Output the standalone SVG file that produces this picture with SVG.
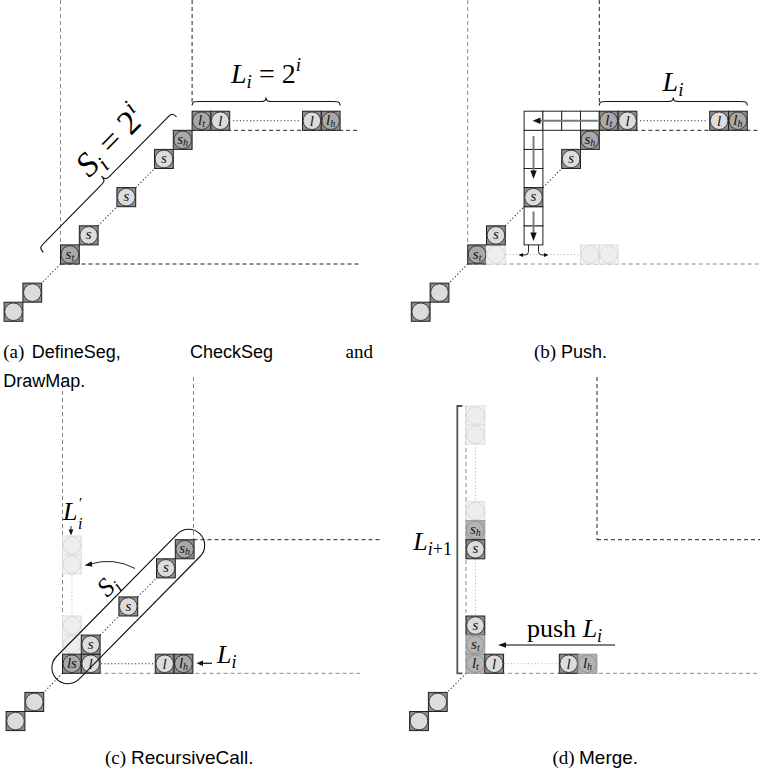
<svg xmlns="http://www.w3.org/2000/svg" xmlns:xlink="http://www.w3.org/1999/xlink" width="764" height="774" viewBox="0 0 764 774">
<style>
.dk{stroke:#222;stroke-width:1;stroke-dasharray:4,3;fill:none}
.lt{stroke:#8a8a8a;stroke-width:1;stroke-dasharray:4,3;fill:none}
.dot{stroke:#333;stroke-width:1.1;stroke-dasharray:1.2,2.2;fill:none}
.dotl{stroke:#b8b8b8;stroke-width:1;stroke-dasharray:1.2,2.2;fill:none}
.ct{font-family:"Liberation Serif",serif;font-style:italic;font-size:15px;text-anchor:middle;fill:#111}
.sb{font-size:10px}
.lab{font-family:"Liberation Serif",serif;font-style:italic;font-size:26px;fill:#000}
.up{font-style:normal}
.s2{font-size:18px}
.brace{fill:none;stroke:#111;stroke-width:1.1}
.box{fill:#fff;stroke:#222;stroke-width:1}
.garr{stroke:#7a7a7a;stroke-width:2;fill:none}
.arr{stroke:#222;stroke-width:1;fill:none}
.serif{font-family:"Liberation Serif",serif;font-size:19px;fill:#000}
.sans{font-family:"Liberation Sans",Arial,sans-serif;font-size:18px;fill:#000}
</style>
<defs>
<g id="cn"><rect width="18.8" height="19.1" fill="#8c8c8c" stroke="#222" stroke-width="1"/><circle cx="9.4" cy="9.55" r="8.8" fill="#dcdcdc" stroke="#222" stroke-width="0.8"/></g>
<g id="cd"><rect width="18.8" height="19.1" fill="#8c8c8c" stroke="#222" stroke-width="1"/><circle cx="9.4" cy="9.55" r="8.8" fill="#a9a9a9" stroke="#222" stroke-width="0.8"/></g>
<g id="cp"><rect width="18.8" height="19.1" fill="#f3f3f3" stroke="#dcdcdc" stroke-width="1"/><circle cx="9.4" cy="9.55" r="8.8" fill="#eeeeee" stroke="#d2d2d2" stroke-width="0.8"/></g>
<g id="cf"><rect width="18.8" height="19.1" fill="#b2b2b2" stroke="#9a9a9a" stroke-width="1"/><circle cx="9.4" cy="9.55" r="8.8" fill="#b4b4b4" stroke="#8c8c8c" stroke-width="0.8"/></g>
<rect id="bx" class="box" width="18.8" height="19.1"/>
</defs>

<g id="guides">
<line class="lt" x1="60.5" y1="0" x2="60.5" y2="245"/>
<line class="dk" x1="192.1" y1="0" x2="192.1" y2="103"/>
<line class="dk" x1="192.1" y1="130.3" x2="360" y2="130.3"/>
<line class="dk" x1="60.5" y1="264" x2="360" y2="264"/>
<line class="lt" x1="467.7" y1="0" x2="467.7" y2="245"/>
<line class="dk" x1="599.3" y1="0" x2="599.3" y2="103"/>
<line class="dk" x1="599.3" y1="130.3" x2="760" y2="130.3"/>
<line class="lt" x1="467.7" y1="264" x2="760" y2="264"/>
<line class="lt" x1="62.5" y1="377" x2="62.5" y2="654"/>
<line class="lt" x1="193.5" y1="377" x2="193.5" y2="539.7"/>
<line class="dk" x1="193.5" y1="539.7" x2="380" y2="539.7"/>
<line class="lt" x1="62.5" y1="673.3" x2="360" y2="673.3"/>
<line class="lt" x1="466" y1="406" x2="466" y2="673.3"/>
<line class="dk" x1="597" y1="377" x2="597" y2="539.7"/>
<line class="dk" x1="597" y1="539.7" x2="760" y2="539.7"/>
<line class="lt" x1="466" y1="673.3" x2="760" y2="673.3"/>
</g>

<g id="connectors">
<line class="dot" x1="60.5" y1="264" x2="41.7" y2="283.1"/>
<line class="dot" x1="98.1" y1="225.8" x2="116.9" y2="206.7"/>
<line class="dot" x1="135.7" y1="187.6" x2="154.5" y2="168.5"/>
<line class="dot" x1="233" y1="120.7" x2="300" y2="120.7"/>
<line class="dot" x1="467.7" y1="264" x2="448.9" y2="283.1"/>
<line class="dot" x1="505.3" y1="225.8" x2="524.1" y2="206.7"/>
<line class="dot" x1="542.9" y1="187.6" x2="561.7" y2="168.5"/>
<line class="dot" x1="640" y1="120.7" x2="707" y2="120.7"/>
<line class="dotl" x1="506" y1="254.5" x2="580" y2="254.5"/>
<line class="dot" x1="62.5" y1="673.3" x2="43.7" y2="692.4"/>
<line class="dot" x1="100.1" y1="635.1" x2="118.9" y2="616"/>
<line class="dot" x1="137.7" y1="596.9" x2="156.5" y2="577.9"/>
<line class="dot" x1="101" y1="663.7" x2="155" y2="663.7"/>
<line class="dotl" x1="71.9" y1="575" x2="71.9" y2="616"/>
<line class="dot" x1="466" y1="673.3" x2="447.2" y2="692.4"/>
<line class="dotl" x1="475.4" y1="444" x2="475.4" y2="501.5"/>
<line class="dotl" x1="475.4" y1="559" x2="475.4" y2="616"/>
<line class="dotl" x1="504" y1="663.7" x2="559" y2="663.7"/>
</g>

<g id="a-nodes">
<g id="a-c3"><use xlink:href="#cn" x="4.1" y="302.2"/></g>
<g id="a-c2"><use xlink:href="#cn" x="22.9" y="283.1"/></g>
<g id="a-st"><use xlink:href="#cd" x="60.5" y="244.9"/><text class="ct" x="69.9" y="258.5">s<tspan class="sb" dy="2">t</tspan></text></g>
<g id="a-s1"><use xlink:href="#cn" x="79.3" y="225.8"/><text class="ct" x="88.7" y="239.4">s</text></g>
<g id="a-s3"><use xlink:href="#cn" x="116.9" y="187.6"/><text class="ct" x="126.3" y="201.2">s</text></g>
<g id="a-s5"><use xlink:href="#cn" x="154.5" y="149.4"/><text class="ct" x="163.9" y="163">s</text></g>
<g id="a-sh"><use xlink:href="#cd" x="173.3" y="130.3"/><text class="ct" x="182.7" y="143.9">s<tspan class="sb" dy="2">h</tspan></text></g>
<g id="a-lt"><use xlink:href="#cd" x="192.1" y="111.2"/><text class="ct" x="201.5" y="124.8">l<tspan class="sb" dy="2">t</tspan></text></g>
<g id="a-l1"><use xlink:href="#cn" x="210.9" y="111.2"/><text class="ct" x="220.3" y="125.8">l</text></g>
<g id="a-l2"><use xlink:href="#cn" x="302.5" y="111.2"/><text class="ct" x="311.9" y="125.8">l</text></g>
<g id="a-lh"><use xlink:href="#cd" x="321.3" y="111.2"/><text class="ct" x="330.7" y="124.8">l<tspan class="sb" dy="2">h</tspan></text></g>
</g>

<g id="a-annot">
<path class="brace" d="M192.1,105.5 C192.1,101.5 194,101.5 200,101.5 L258,101.5 C264,101.5 266.1,101.5 266.1,97.5 C266.1,101.5 268,101.5 274,101.5 L332,101.5 C338,101.5 340.1,101.5 340.1,105.5"/>
<text class="lab" x="266" y="83" text-anchor="middle" style="font-size:28px">L<tspan style="font-size:19px" dy="5">i</tspan><tspan class="up" dy="-5"> = 2</tspan><tspan style="font-size:19px" dy="-12">i</tspan></text>
<g transform="translate(39.1,248.1) rotate(-45.5)">
<path class="brace" d="M0,6 C0,0 2,0 8,0 L87,0 C93,0 95,0 95,-6 C95,0 97,0 103,0 L182,0 C188,0 190,0 190,6"/>
<text class="lab" x="126" y="-13" text-anchor="middle" style="font-size:34px">S<tspan style="font-size:22px" dy="7">i</tspan><tspan class="up" dy="-7"> = 2</tspan><tspan style="font-size:22px" dy="-14">i</tspan></text>
</g>
</g>

<g id="b-nodes">
<g id="b-c3"><use xlink:href="#cn" x="411.3" y="302.2"/></g>
<g id="b-c2"><use xlink:href="#cn" x="430.1" y="283.1"/></g>
<g id="b-st"><use xlink:href="#cd" x="467.7" y="244.9"/><text class="ct" x="477.1" y="258.5">s<tspan class="sb" dy="2">t</tspan></text></g>
<g id="b-p1"><use xlink:href="#cp" x="486.5" y="244.9"/></g>
<g id="b-s1"><use xlink:href="#cn" x="486.5" y="225.8"/><text class="ct" x="495.9" y="239.4">s</text></g>
<g id="b-stack">
<use xlink:href="#bx" x="524.1" y="225.8"/>
<use xlink:href="#bx" x="524.1" y="206.7"/>
<use xlink:href="#bx" x="524.1" y="168.5"/>
<use xlink:href="#bx" x="524.1" y="149.4"/>
<use xlink:href="#bx" x="524.1" y="130.3"/>
<use xlink:href="#bx" x="524.1" y="111.2"/>
<use xlink:href="#bx" x="542.9" y="111.2"/>
<use xlink:href="#bx" x="561.7" y="111.2"/>
<use xlink:href="#bx" x="580.5" y="111.2"/>
</g>
<g id="b-s3"><use xlink:href="#cn" x="524.1" y="187.6"/><text class="ct" x="533.5" y="201.2">s</text></g>
<g id="b-s5"><use xlink:href="#cn" x="561.7" y="149.4"/><text class="ct" x="571.1" y="163">s</text></g>
<g id="b-sh"><use xlink:href="#cd" x="580.5" y="130.3"/><text class="ct" x="589.9" y="143.9">s<tspan class="sb" dy="2">h</tspan></text></g>
<g id="b-lt"><use xlink:href="#cd" x="599.3" y="111.2"/><text class="ct" x="608.7" y="124.8">l<tspan class="sb" dy="2">t</tspan></text></g>
<g id="b-l1"><use xlink:href="#cn" x="618.1" y="111.2"/><text class="ct" x="627.5" y="125.8">l</text></g>
<g id="b-l2"><use xlink:href="#cn" x="709.7" y="111.2"/><text class="ct" x="719.1" y="125.8">l</text></g>
<g id="b-lh"><use xlink:href="#cd" x="728.5" y="111.2"/><text class="ct" x="737.9" y="124.8">l<tspan class="sb" dy="2">h</tspan></text></g>
<g id="b-p6"><use xlink:href="#cp" x="580.5" y="244.9"/></g>
<g id="b-p7"><use xlink:href="#cp" x="599.3" y="244.9"/></g>
</g>

<g id="b-annot">
<line class="garr" x1="598" y1="120.7" x2="540" y2="120.7"/>
<polygon points="532.5,120.7 540.5,117.5 540.5,123.9" fill="#111"/>
<line class="garr" x1="533.5" y1="136" x2="533.5" y2="171"/>
<polygon points="533.5,179 530.3,170.5 536.7,170.5" fill="#111"/>
<line class="garr" x1="533.5" y1="211.5" x2="533.5" y2="233"/>
<polygon points="533.5,241 530.3,232.5 536.7,232.5" fill="#111"/>
<path class="arr" d="M528.5,244.9 L528.5,251.5 Q528.5,255 525,255 L522,255"/>
<polygon points="518.5,255 523,253 523,257" fill="#111"/>
<path class="arr" d="M538.5,244.9 L538.5,251.5 Q538.5,255 542,255 L545,255"/>
<polygon points="548.5,255 544,253 544,257" fill="#111"/>
<path class="brace" d="M599.3,105.5 C599.3,101.5 601.2,101.5 607.2,101.5 L665.3,101.5 C671.3,101.5 673.3,101.5 673.3,97.5 C673.3,101.5 675.3,101.5 681.3,101.5 L739.3,101.5 C745.3,101.5 747.3,101.5 747.3,105.5"/>
<text class="lab" x="673" y="91" text-anchor="middle" style="font-size:28px">L<tspan style="font-size:19px" dy="5">i</tspan></text>
</g>

<g id="c-nodes">
<g id="c-c3"><use xlink:href="#cn" x="6.1" y="711.5"/></g>
<g id="c-c2"><use xlink:href="#cn" x="24.9" y="692.4"/></g>
<g id="c-p1"><use xlink:href="#cp" x="62.5" y="635.1"/></g>
<g id="c-p2"><use xlink:href="#cp" x="62.5" y="616.0"/></g>
<g id="c-p5"><use xlink:href="#cp" x="62.5" y="555"/></g>
<g id="c-p6"><use xlink:href="#cp" x="62.5" y="536"/></g>
<g id="c-ls"><use xlink:href="#cd" x="62.5" y="654.2"/><text class="ct" x="71.9" y="668">ls</text></g>
<g id="c-l1"><use xlink:href="#cn" x="81.3" y="654.2"/><text class="ct" x="90.7" y="668.8">l</text></g>
<g id="c-s1"><use xlink:href="#cn" x="81.3" y="635.1"/><text class="ct" x="90.7" y="648.7">s</text></g>
<g id="c-s3"><use xlink:href="#cn" x="118.9" y="596.9"/><text class="ct" x="128.3" y="610.5">s</text></g>
<g id="c-s5"><use xlink:href="#cn" x="156.5" y="558.8"/><text class="ct" x="165.9" y="572.4">s</text></g>
<g id="c-sh"><use xlink:href="#cd" x="175.3" y="539.7"/><text class="ct" x="184.7" y="553.3">s<tspan class="sb" dy="2">h</tspan></text></g>
<g id="c-l2"><use xlink:href="#cn" x="155.3" y="654.2"/><text class="ct" x="164.7" y="668.8">l</text></g>
<g id="c-lh"><use xlink:href="#cd" x="174.1" y="654.2"/><text class="ct" x="183.5" y="667.8">l<tspan class="sb" dy="2">h</tspan></text></g>
</g>

<g id="c-annot">
<rect x="-102" y="-16" width="204" height="32" rx="16" ry="16" fill="none" stroke="#111" stroke-width="1.1" transform="translate(128.3,606.5) rotate(-45.4)"/>
<text class="lab" x="108" y="594" text-anchor="middle" transform="rotate(-45.4 108 586)">S<tspan class="s2" dy="5">i</tspan></text>
<path class="arr" d="M135,568.5 Q114,557 90,564"/>
<polygon points="84.5,565.5 91.5,561.3 92.3,566.5" fill="#111"/>
<text class="lab" x="63" y="520">L</text>
<text class="lab" x="79" y="508" style="font-size:15px;font-style:normal">′</text>
<text class="lab" x="78" y="529" style="font-size:16px">i</text>
<line class="arr" x1="71" y1="526" x2="71" y2="530"/>
<polygon points="71,535.5 68.6,529.5 73.4,529.5" fill="#111"/>
<line class="arr" x1="212" y1="663.3" x2="202" y2="663.3" style="stroke-width:1.3"/>
<polygon points="196.5,663.3 203,660.6 203,666" fill="#111"/>
<text class="lab" x="217" y="663">L<tspan class="s2" dy="5">i</tspan></text>
</g>

<g id="d-nodes">
<g id="d-c3"><use xlink:href="#cn" x="409.6" y="711.5"/></g>
<g id="d-c2"><use xlink:href="#cn" x="428.4" y="692.4"/></g>
<g id="d-p13"><use xlink:href="#cp" x="466" y="406"/></g>
<g id="d-p12"><use xlink:href="#cp" x="466" y="425.1"/></g>
<g id="d-p8"><use xlink:href="#cp" x="466" y="501.5"/></g>
<g id="d-sh"><use xlink:href="#cf" x="466" y="520.6"/><text class="ct" x="475.4" y="534.2">s<tspan class="sb" dy="2">h</tspan></text></g>
<g id="d-s6"><use xlink:href="#cn" x="466" y="539.7"/><text class="ct" x="475.4" y="553.3">s</text></g>
<g id="d-s2"><use xlink:href="#cn" x="466" y="616.0"/><text class="ct" x="475.4" y="629.6">s</text></g>
<g id="d-st"><use xlink:href="#cf" x="466" y="635.1"/><text class="ct" x="475.4" y="648.7">s<tspan class="sb" dy="2">t</tspan></text></g>
<g id="d-lt"><use xlink:href="#cf" x="466" y="654.2"/><text class="ct" x="475.4" y="667.8">l<tspan class="sb" dy="2">t</tspan></text></g>
<g id="d-l1"><use xlink:href="#cn" x="484.8" y="654.2"/><text class="ct" x="494.2" y="668.8">l</text></g>
<g id="d-l2"><use xlink:href="#cn" x="559.3" y="654.2"/><text class="ct" x="568.7" y="668.8">l</text></g>
<g id="d-lh"><use xlink:href="#cf" x="578.1" y="654.2"/><text class="ct" x="587.5" y="667.8">l<tspan class="sb" dy="2">h</tspan></text></g>
</g>

<g id="d-annot">
<path d="M462.5,406 L457.3,406 L457.3,673.3 L462.5,673.3" fill="none" stroke="#555" stroke-width="1.8"/>
<text class="lab" x="452" y="550" text-anchor="end">L<tspan class="s2" dy="5">i</tspan><tspan class="s2 up">+1</tspan></text>
<line x1="615" y1="645" x2="505" y2="645" stroke="#555" stroke-width="1.6"/>
<polygon points="498,645 506,642.2 506,647.8" fill="#111"/>
<text class="lab" x="527" y="637"><tspan class="up">push </tspan>L<tspan class="s2" dy="5">i</tspan></text>
</g>

<g id="captions">
<text class="serif" x="3.3" y="358">(a)</text>
<text class="sans" x="31.7" y="358">DefineSeg,</text>
<text class="sans" x="190" y="358">CheckSeg</text>
<text class="serif" x="373" y="358" text-anchor="end">and</text>
<text class="sans" x="3.3" y="387">DrawMap.</text>
<text class="serif" x="534" y="358">(b)</text>
<text class="sans" x="561" y="358">Push.</text>
<text class="serif" x="105" y="764">(c)</text>
<text class="sans" x="131" y="764" style="font-size:19px">RecursiveCall.</text>
<text class="serif" x="552.5" y="764">(d)</text>
<text class="sans" x="579" y="764" style="font-size:19px">Merge.</text>
</g>
</svg>
